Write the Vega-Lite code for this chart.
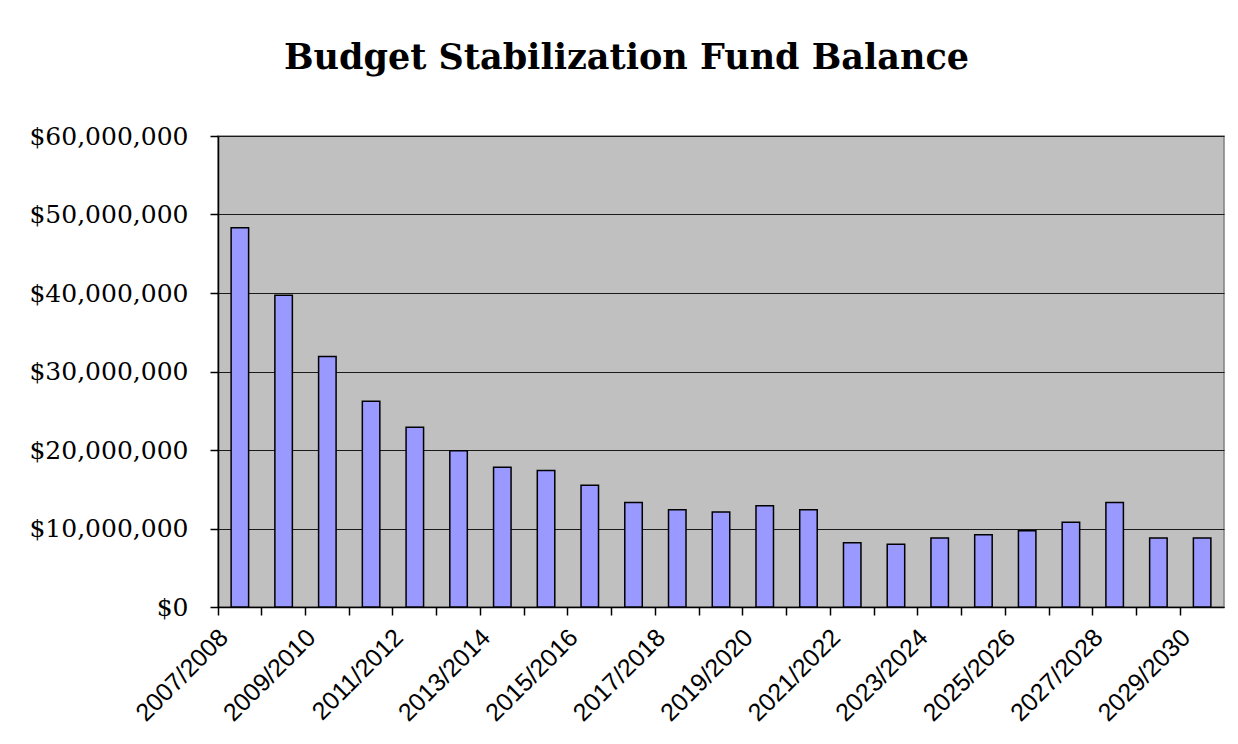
{
  "$schema": "https://vega.github.io/schema/vega-lite/v6.json",
  "width": 1006,
  "height": 471,
  "autosize": {"type": "none"},
  "padding": {"left": 218, "top": 136, "right": 14, "bottom": 137},
  "background": "white",
  "title": {
    "text": "Budget Stabilization Fund Balance",
    "font": "DejaVu Serif",
    "fontSize": 35,
    "fontWeight": "bold",
    "color": "black",
    "anchor": "middle",
    "frame": "bounds",
    "offset": 48
  },
  "config": {
    "view": {"fill": "#C0C0C0", "stroke": "#808080", "strokeWidth": 1.5}
  },
  "data": {
    "values": [
      {"year": "2007/2008", "balance": 48300000},
      {"year": "2008/2009", "balance": 39700000},
      {"year": "2009/2010", "balance": 31900000},
      {"year": "2010/2011", "balance": 26200000},
      {"year": "2011/2012", "balance": 22900000},
      {"year": "2012/2013", "balance": 19900000},
      {"year": "2013/2014", "balance": 17800000},
      {"year": "2014/2015", "balance": 17400000},
      {"year": "2015/2016", "balance": 15500000},
      {"year": "2016/2017", "balance": 13300000},
      {"year": "2017/2018", "balance": 12400000},
      {"year": "2018/2019", "balance": 12100000},
      {"year": "2019/2020", "balance": 12900000},
      {"year": "2020/2021", "balance": 12400000},
      {"year": "2021/2022", "balance": 8200000},
      {"year": "2022/2023", "balance": 8000000},
      {"year": "2023/2024", "balance": 8800000},
      {"year": "2024/2025", "balance": 9200000},
      {"year": "2025/2026", "balance": 9700000},
      {"year": "2026/2027", "balance": 10800000},
      {"year": "2027/2028", "balance": 13300000},
      {"year": "2028/2029", "balance": 8800000},
      {"year": "2029/2030", "balance": 8800000}
    ]
  },
  "mark": {"type": "bar", "fill": "#9999FF", "stroke": "black", "strokeWidth": 1.5},
  "encoding": {
    "x": {
      "field": "year",
      "type": "nominal",
      "sort": null,
      "scale": {"paddingInner": 0.6, "paddingOuter": 0.3},
      "axis": {
        "title": null,
        "bandPosition": -0.75,
        "tickSize": 8,
        "tickColor": "black",
        "tickWidth": 1.5,
        "domainColor": "black",
        "domainWidth": 1.5,
        "labelAngle": -45,
        "labelAlign": "right",
        "labelBaseline": "middle",
        "labelOffset": -16,
        "labelPadding": 18,
        "labelFont": "Liberation Sans",
        "labelFontSize": 25,
        "labelColor": "black",
        "labelOverlap": false,
        "labelExpr": "toNumber(slice(datum.value, 0, 4)) % 2 == 1 ? datum.value : ''"
      }
    },
    "y": {
      "field": "balance",
      "type": "quantitative",
      "scale": {"domain": [0, 60000000], "nice": false},
      "axis": {
        "title": null,
        "values": [0, 10000000, 20000000, 30000000, 40000000, 50000000, 60000000],
        "format": "$,.0f",
        "labelFont": "DejaVu Serif",
        "labelFontSize": 25,
        "labelColor": "black",
        "labelPadding": 22,
        "tickSize": 8,
        "tickColor": "black",
        "tickWidth": 1.5,
        "domainColor": "black",
        "domainWidth": 1.5,
        "grid": true,
        "gridColor": "#1a1a1a",
        "gridWidth": 1.2
      }
    }
  }
}
